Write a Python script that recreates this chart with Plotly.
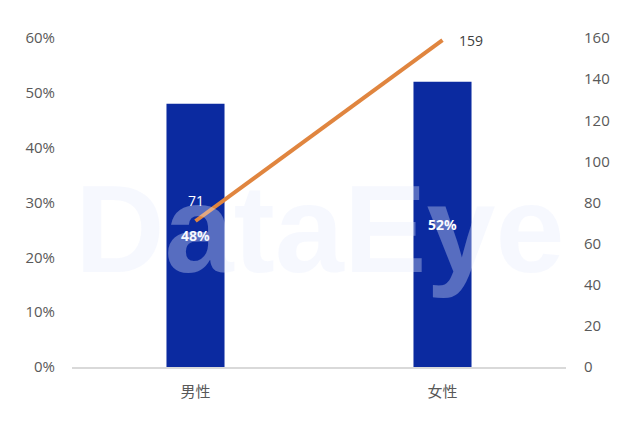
import plotly.graph_objects as go

categories = ["男性", "女性"]
share = [0.48, 0.52]
share_labels = ["48%", "52%"]
counts = [71, 159]
count_labels = ["71", "159"]
left_ticks = [0, 0.1, 0.2, 0.3, 0.4, 0.5, 0.6]
right_ticks = [0, 20, 40, 60, 80, 100, 120, 140, 160]

fig = go.Figure()

fig.add_annotation(
    text="<b>DataEye</b>", x=0.5, y=0.42, xref="paper", yref="paper",
    showarrow=False, font=dict(size=124, family="Liberation Sans", color="rgba(228,236,252,0.35)"),
)

fig.add_trace(go.Bar(
    x=categories, y=share, width=0.235,
    marker=dict(color="#0B2AA0", line=dict(width=0)),
    text=share_labels, textposition="inside", insidetextanchor="middle",
    textfont=dict(color="white", size=14, family="Open Sans"),
    texttemplate="<b>%{text}</b>", showlegend=False,
))
fig.add_trace(go.Scatter(
    x=categories, y=counts, yaxis="y2", mode="lines",
    line=dict(color="#E0853F", width=4),
    showlegend=False, cliponaxis=False,
))

# line value labels
fig.add_annotation(x=categories[0], y=counts[0], yref="y2", text=count_labels[0],
                   showarrow=False, yshift=21, font=dict(size=14, family="Open Sans", color="white"))
fig.add_annotation(x=categories[1], y=counts[1], yref="y2", text=count_labels[1],
                   showarrow=False, xshift=14, xanchor="left",
                   font=dict(size=14, family="Open Sans", color="#404040"))

fig.update_layout(
    width=633, height=423,
    margin=dict(l=64, r=75, t=30, b=64, autoexpand=False),
    paper_bgcolor="white", plot_bgcolor="white",
    xaxis=dict(
        range=[-0.5, 1.5], showgrid=False, showline=True, linecolor="#D9D9D9", linewidth=2,
        ticks="outside", ticklen=10, tickcolor="rgba(0,0,0,0)",
        tickfont=dict(size=15, family="Noto Sans CJK SC", color="#595959"),
    ),
    yaxis=dict(
        range=[0, 0.6], tickvals=left_ticks, tickformat=".0%", showgrid=False, zeroline=False,
        ticks="outside", ticklen=13, tickcolor="rgba(0,0,0,0)",
        tickfont=dict(size=15, family="Open Sans", color="#595959"),
    ),
    yaxis2=dict(
        range=[0, 160], tickvals=right_ticks, overlaying="y", side="right", showgrid=False,
        zeroline=False, ticks="outside", ticklen=14, tickcolor="rgba(0,0,0,0)",
        tickfont=dict(size=15, family="Open Sans", color="#595959"),
    ),
)

fig.write_html("out.html")
